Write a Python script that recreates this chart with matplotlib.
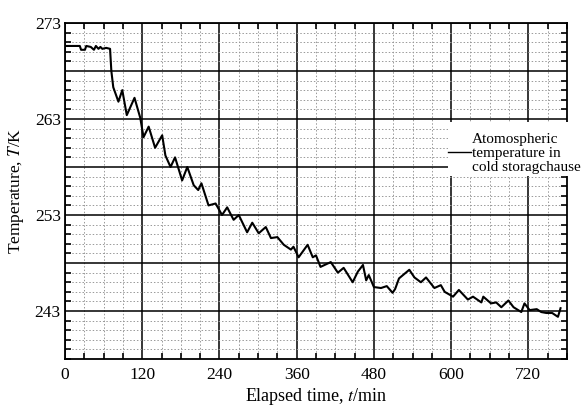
import matplotlib
matplotlib.use('Agg')
import matplotlib.pyplot as plt
from matplotlib.ticker import MultipleLocator, FixedLocator, FuncFormatter
from matplotlib.patches import Rectangle

# Data
time_min = [0, 5, 20, 23, 25, 31, 33, 40, 45, 48, 52, 55, 58, 64, 70, 72, 75, 83, 89, 96,
            108, 117, 122, 130, 140, 151, 156, 164, 171, 182, 190, 200, 207, 212, 223,
            234, 244, 252, 262, 270, 283, 291, 301, 312, 320, 330, 340, 351, 355, 363,
            377, 385, 390, 397, 413, 424, 433, 447, 455, 463, 468, 472, 480, 491, 500,
            509, 513, 519, 535, 543, 553, 561, 574, 584, 590, 603, 612, 626, 634, 647,
            650, 662, 670, 678, 689, 697, 709, 714, 722, 733, 740, 748, 757, 766, 770]
temp_K = [270.6, 270.6, 270.6, 270.6, 270.2, 270.2, 270.6, 270.5, 270.2, 270.6, 270.3,
          270.5, 270.3, 270.4, 270.3, 268.0, 266.3, 264.8, 266.0, 263.4,
          265.2, 263.1, 261.1, 262.2, 260.0, 261.3, 259.2, 258.0, 259.0, 256.6, 258.0,
          256.1, 255.6, 256.3, 254.0, 254.2, 253.0, 253.8, 252.5, 253.0, 251.2, 252.2,
          251.1, 251.75, 250.6, 250.7, 249.9, 249.4, 249.7, 248.6, 249.9, 248.6, 248.8,
          247.6, 248.1, 247.0, 247.5, 246.0, 247.1, 247.8, 246.2, 246.75, 245.5, 245.4,
          245.6, 244.9, 245.3, 246.4, 247.3, 246.5, 246.0, 246.5, 245.4, 245.7, 245.0,
          244.5, 245.2, 244.2, 244.5, 243.9, 244.5, 243.8, 243.9, 243.4, 244.1, 243.4,
          242.9, 243.8, 243.1, 243.2, 242.9, 242.8, 242.8, 242.4, 243.3]

x_ticks = [0, 120, 240, 360, 480, 600, 720]
y_grid = [243, 248, 253, 258, 263, 268, 273]
y_labeled = [243, 253, 263, 273]
legend_text = 'Atomospheric\ntemperature in\ncold storagchause'

plt.rcParams['font.family'] = 'Liberation Serif'
plt.rcParams['mathtext.fontset'] = 'stix'

fig = plt.figure(figsize=(5.83, 4.09), dpi=100)
ax = fig.add_axes([0.1115, 0.122, 0.861, 0.822])

ax.plot(time_min, temp_K, color='black', lw=1.5, zorder=3)

ax.set_xlim(0, 780)
ax.set_ylim(238, 273)

ax.xaxis.set_major_locator(FixedLocator(x_ticks))
ax.xaxis.set_minor_locator(MultipleLocator(30))
ax.yaxis.set_major_locator(FixedLocator(y_grid))
ax.yaxis.set_minor_locator(MultipleLocator(1))
ax.yaxis.set_major_formatter(FuncFormatter(lambda v, p: '%d' % round(v) if round(v) in y_labeled else ''))

ax.grid(which='major', color='black', lw=1.1)
ax.grid(which='minor', color='#999999', lw=0.7, ls=(0, (1.5, 2)))
ax.tick_params(which='both', direction='in', top=True, right=True, labelsize=12.5)
ax.tick_params(which='major', length=0)
ax.tick_params(axis='x', which='major', pad=6)
ax.tick_params(axis='y', which='major', pad=3)
ax.tick_params(which='minor', length=4, width=1.2)
for s in ax.spines.values():
    s.set_linewidth(1.3)

ax.set_xlabel('Elapsed time, $t$/min', fontsize=13, labelpad=2)
ax.set_ylabel('Temperature, $T$/K', fontsize=12.5, labelpad=6)

# legend area: white box with a short line and text, running past the axes
fig.patches.append(Rectangle((448 / 583, 1 - 176 / 409), 135 / 583, 54 / 409,
                             transform=fig.transFigure, facecolor='white',
                             edgecolor='none', zorder=5))
fig.add_artist(plt.Line2D([448 / 583, 471 / 583], [1 - 152 / 409, 1 - 152 / 409],
                          color='black', lw=1.0, transform=fig.transFigure, zorder=6))
fig.text(472 / 583, 1 - 153 / 409, legend_text, fontsize=11, va='center', ha='left',
         linespacing=1.1, zorder=6)

plt.savefig('out.png', dpi=100)
